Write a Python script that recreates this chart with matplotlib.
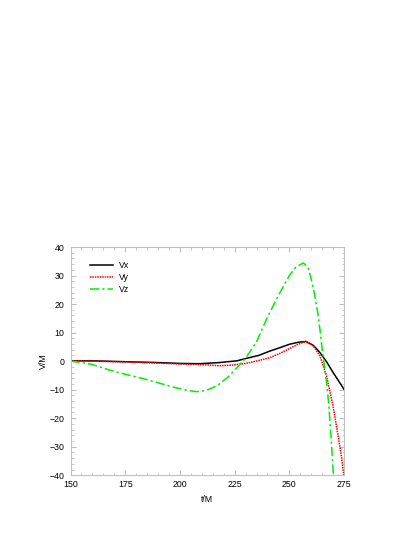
import numpy as np
import matplotlib
matplotlib.use('Agg')
import matplotlib.pyplot as plt
from matplotlib.ticker import MultipleLocator

plt.rcParams['font.family'] = ['Liberation Sans', 'DejaVu Sans']

# valores
t_x = [150, 160, 175, 190, 200, 209, 218, 226, 230, 236, 241, 246, 250, 254, 257.6, 261, 264, 267, 270, 273, 275]
vx = [0.1, 0.1, -0.2, -0.5, -0.8, -0.9, -0.5, 0.1, 0.9, 2.0, 3.5, 4.8, 5.9, 6.6, 6.9, 5.5, 3.0, -0.2, -4.0, -7.5, -9.9]

t_y = [150, 160, 175, 190, 200, 209, 218, 224, 230, 236, 241, 246, 250, 254, 257.6, 261, 264, 267, 270, 272.3, 273.8, 275]
vy = [0.1, 0.0, -0.3, -0.7, -1.0, -1.2, -1.6, -1.4, -0.8, 0.2, 1.2, 2.8, 4.4, 5.9, 6.9, 5.3, 1.8, -5.2, -15.8, -26.3, -33.3, -40.8]

t_z = [150, 155, 160, 168, 175, 183, 190, 198, 203, 207.6, 212, 217, 222, 226, 230, 235, 240, 245, 250, 253, 256.4, 258.5, 260, 261.5, 263, 264, 265, 266, 267, 268, 269, 270, 270.5]
vz = [0.0, -0.5, -1.2, -3.2, -4.6, -6.1, -7.6, -9.3, -10.2, -10.7, -10.3, -8.6, -5.6, -2.3, 1.0, 6.8, 15.4, 23.0, 30.0, 33.0, 34.4, 33.0, 28.8, 23.5, 17.0, 11.0, 4.2, -1.5, -7.4, -15.0, -26.0, -38.0, -45.0]

x_ticks = [150, 175, 200, 225, 250, 275]
y_ticks = [-40, -30, -20, -10, 0, 10, 20, 30, 40]

fs = 6.3

fig = plt.figure(figsize=(4.15, 5.37), dpi=100)
ax = fig.add_axes([0.170, 0.115, 0.659, 0.425])

ax.plot(t_x, vx, color='black', lw=1.1, label='Vx')
ax.plot(t_y, vy, color='red', lw=1.1, ls=(0, (1, 0.6)), label='Vy')
ax.plot(t_z, vz, color='#00ee00', lw=1.1, ls=(0, (6, 2, 1.5, 2)), label='Vz')

ax.set_xticks(x_ticks)
ax.set_yticks(y_ticks)
ax.xaxis.set_minor_locator(MultipleLocator(5))
ax.yaxis.set_minor_locator(MultipleLocator(2))
ax.set_xlim(150, 275)
ax.set_ylim(-40, 40)
ax.tick_params(which='both', direction='in', top=True, right=True, color='#b0b0b0', labelsize=fs)
ax.tick_params(which='major', length=3.5, width=0.6)
ax.tick_params(axis='x', which='major', pad=3.4)
ax.tick_params(axis='y', which='major', pad=4.5)
ax.tick_params(which='minor', length=1.8, width=0.5)
for s in ax.spines.values():
    s.set_color('#c0c0c0')
    s.set_linewidth(0.8)

ax.set_xlabel('t/M', fontsize=fs, labelpad=4.5)
ax.set_ylabel('V/M', fontsize=fs, labelpad=1)

ax.legend(loc='upper left', fontsize=fs, frameon=False, handlelength=2.6, handletextpad=0.6,
          labelspacing=0.33, bbox_to_anchor=(0.044, 0.973))

plt.savefig('out.png', dpi=100)
